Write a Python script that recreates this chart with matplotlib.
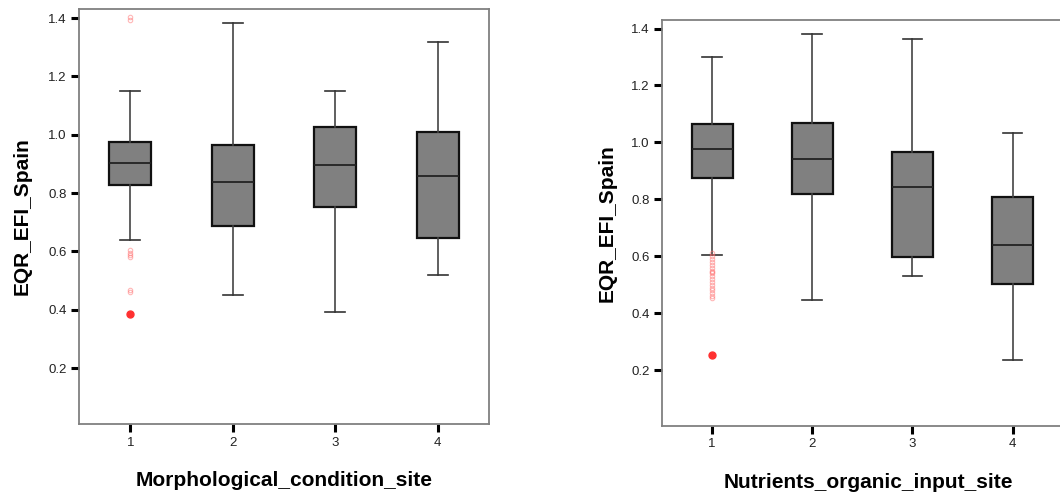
import matplotlib
matplotlib.use("Agg")
import matplotlib.pyplot as plt

plt.rcParams['font.family'] = ['Liberation Sans', 'DejaVu Sans']

categories = ["1", "2", "3", "4"]
yticks = [0.2, 0.4, 0.6, 0.8, 1.0, 1.2, 1.4]

# Panel 1: Morphological_condition_site
morph_whislo = [0.639, 0.451, 0.391, 0.520]
morph_q1 = [0.827, 0.688, 0.753, 0.645]
morph_med = [0.902, 0.838, 0.897, 0.857]
morph_q3 = [0.976, 0.966, 1.025, 1.010]
morph_whishi = [1.150, 1.382, 1.150, 1.318]
morph_outliers = [[1.402, 1.395, 0.605, 0.595, 0.588, 0.58, 0.468, 0.462], [], [], []]
morph_extremes = [[0.385], [], [], []]

# Panel 2: Nutrients_organic_input_site
nutr_whislo = [0.606, 0.448, 0.532, 0.235]
nutr_q1 = [0.874, 0.820, 0.598, 0.503]
nutr_med = [0.978, 0.943, 0.845, 0.641]
nutr_q3 = [1.063, 1.067, 0.968, 0.809]
nutr_whishi = [1.300, 1.380, 1.365, 1.032]
nutr_outliers = [[0.612, 0.60, 0.59, 0.58, 0.57, 0.56, 0.55, 0.545, 0.54, 0.53,
                  0.52, 0.51, 0.50, 0.49, 0.48, 0.47, 0.462, 0.455], [], [], []]
nutr_extremes = [[0.255], [], [], []]

fig = plt.figure(figsize=(10.6, 4.94), dpi=100)

def panel(rect, ylim, whislo, q1, med, q3, whishi, outl, extr, xlabel, ylabel_x, xlabel_y):
    ax = fig.add_axes(rect)
    stats = []
    for i in range(len(categories)):
        stats.append(dict(whislo=whislo[i], q1=q1[i], med=med[i], q3=q3[i],
                          whishi=whishi[i], fliers=[], label=categories[i]))
    pos = list(range(1, len(categories) + 1))
    ax.bxp(stats, positions=pos, widths=0.41, patch_artist=True, showfliers=False,
           boxprops=dict(facecolor='#808080', edgecolor='#111111', linewidth=1.6),
           medianprops=dict(color='#222222', linewidth=1.3),
           whiskerprops=dict(color='#444444', linewidth=1.2),
           capprops=dict(color='#333333', linewidth=1.2), capwidths=0.195)
    for i, vals in enumerate(outl):
        if vals:
            ax.plot([pos[i]] * len(vals), vals, linestyle='none', marker='o', markersize=3.2,
                    markerfacecolor='none', markeredgecolor='#ff7070', alpha=0.5,
                    markeredgewidth=0.8, zorder=4)
    for i, vals in enumerate(extr):
        if vals:
            ax.plot([pos[i]] * len(vals), vals, linestyle='none', marker='o', markersize=5,
                    color='#ff3030', zorder=4)
    ax.set_xlim(0.5, 4.5)
    ax.set_ylim(*ylim)
    ax.set_yticks(yticks)
    ax.set_yticklabels([f"{v:.1f}" for v in yticks])
    ax.set_xticks(pos)
    ax.set_xticklabels(categories)
    for s in ax.spines.values():
        s.set_color('#808080')
        s.set_linewidth(1.3)
    ax.tick_params(axis='both', direction='out', length=6, width=2.2, color='black',
                   labelsize=9.5, labelcolor='#222222', pad=3)
    ax.set_xlabel(xlabel, fontsize=15, fontweight='bold')
    ax.set_ylabel("EQR_EFI_Spain", fontsize=15, fontweight='bold')
    ax.yaxis.set_label_coords(ylabel_x, rect[1] + rect[3] / 2, transform=fig.transFigure)
    ax.xaxis.set_label_coords(rect[0] + rect[2] / 2 * (4.0 / 4.0), xlabel_y, transform=fig.transFigure)
    ax.xaxis.label.set_va('center')
    ax.yaxis.label.set_va('center')
    return ax

ax1 = panel([0.0745, 0.1417, 0.3868, 0.840], (0.008, 1.431),
      morph_whislo, morph_q1, morph_med, morph_q3, morph_whishi,
      morph_outliers, morph_extremes, "Morphological_condition_site",
      22 / 1060, 1 - 480 / 494)
ax2 = panel([0.6245, 0.1377, 0.378, 0.8218], (0.004, 1.43),
      nutr_whislo, nutr_q1, nutr_med, nutr_q3, nutr_whishi,
      nutr_outliers, nutr_extremes, "Nutrients_organic_input_site",
      607 / 1060, 1 - 482 / 494)
ax2.xaxis.set_label_coords(868 / 1060, 1 - 482 / 494, transform=fig.transFigure)

fig.savefig("out.png", dpi=100)
